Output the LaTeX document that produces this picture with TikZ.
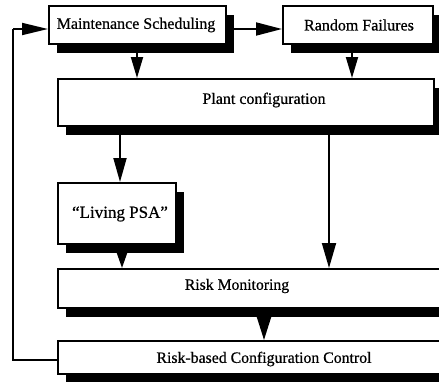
\documentclass[tikz,border=0pt]{standalone}
\usepackage{fontspec}
\setmainfont{Liberation Serif}[FakeBold=0.6]
\usetikzlibrary{arrows.meta}
\tikzset{
  box/.style={draw=black, line width=1.6pt, fill=white, rectangle, inner sep=0pt, anchor=north west,
    preaction={draw=none, fill=black, transform canvas={xshift=8pt, yshift=-9pt}}},
  lbl/.style={font=\fontsize{16pt}{19pt}\selectfont, inner sep=0pt},
  arr/.style={line width=1.8pt, -{Triangle[length=24pt, width=13pt]}},
  ln/.style={line width=1.6pt}
}
\begin{document}
\begin{tikzpicture}[x=1pt, y=-1pt]
\fill[white] (0,0) rectangle (439,381);
\clip (0,0) rectangle (439,381);
% boxes
\node[box, minimum width=177pt, minimum height=38pt] (ms) at (48,5) {};
\node[box, minimum width=150pt, minimum height=38pt] (rf) at (282,5) {};
\node[box, minimum width=376pt, minimum height=47pt] (pc) at (57,78) {};
\node[box, minimum width=118pt, minimum height=61pt] (lp) at (57,182) {};
\node[box, minimum width=403pt, minimum height=39pt] (rm) at (57,268) {};
\node[box, minimum width=403pt, minimum height=33pt] (rbc) at (57,340) {};
% labels
\node[lbl] (tms) at (136,25) {Maintenance Scheduling};
\node[lbl] (trf) at (359,25) {Random Failures};
\node[lbl] (tpc) at (264,100) {Plant configuration};
\node[lbl, font=\fontsize{17pt}{19pt}\selectfont] (tlp) at (120,214) {“Living PSA”};
\node[lbl, font=\fontsize{15.7pt}{19pt}\selectfont] (trm) at (237,286) {Risk Monitoring};
\node[lbl, font=\fontsize{15.8pt}{19pt}\selectfont] (trbc) at (264,359) {Risk-based Configuration Control};
% helper coordinates
\coordinate (x1) at (137,0);
\coordinate (x2) at (352,0);
\coordinate (x3) at (120,0);
\coordinate (x4) at (329,0);
\coordinate (x5) at (122,0);
\coordinate (x6) at (264,0);
\coordinate (loopB) at (13,360);
\coordinate (loopT) at (13,29);
% connectors
\draw[arr, -{Triangle[length=26pt, width=13pt]}] (ms.east |- loopT) -- (rf.west |- loopT);
\draw[arr, -{Triangle[length=21pt, width=12pt]}] (ms.south -| x1) -- (pc.north -| x1);
\draw[arr, -{Triangle[length=21pt, width=12pt]}] (rf.south -| x2) -- (pc.north -| x2);
\draw[arr, -{Triangle[length=24pt, width=13pt]}] (pc.south -| x3) -- (lp.north -| x3);
\draw[arr, -{Triangle[length=25pt, width=14pt]}] (pc.south -| x4) -- (rm.north -| x4);
\draw[arr, -{Triangle[length=15pt, width=10pt]}] (lp.south -| x5) -- (rm.north -| x5);
\draw[arr, -{Triangle[length=23pt, width=14pt]}] (rm.south -| x6) -- (rbc.north -| x6);
\draw[ln] (rbc.west |- loopB) -- (loopB) -- (loopT);
\draw[arr, -{Triangle[length=26pt, width=12pt]}] (loopT) -- (ms.west |- loopT);
\end{tikzpicture}
\end{document}
